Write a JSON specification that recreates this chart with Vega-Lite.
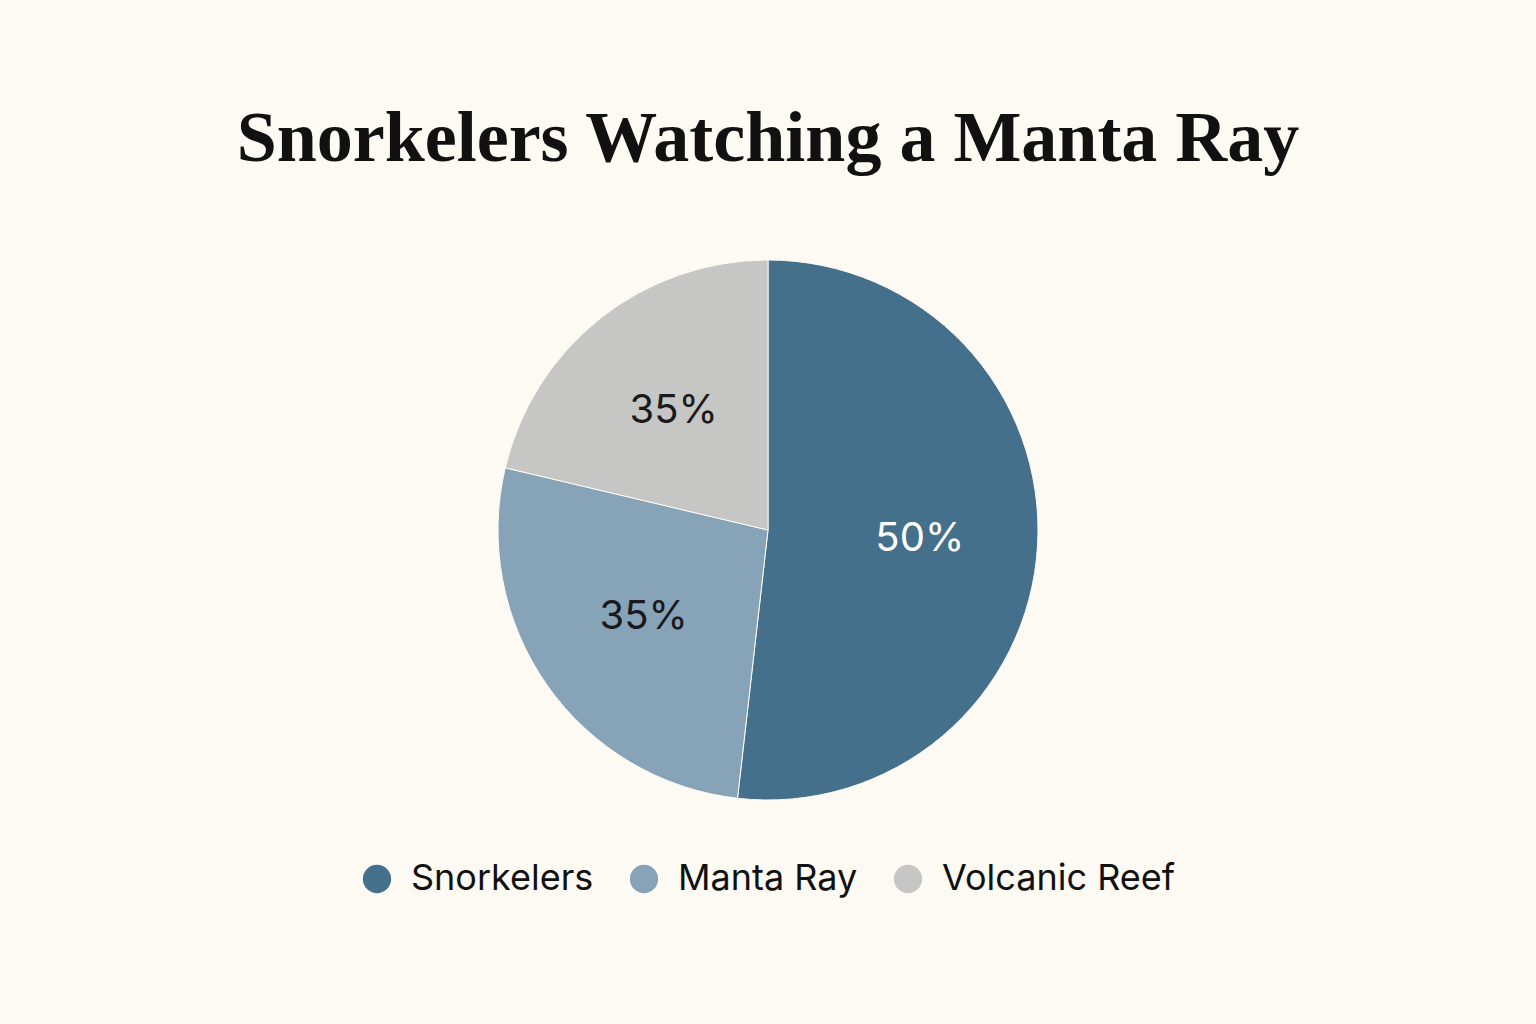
{
  "$schema": "https://vega.github.io/schema/vega-lite/v6.json",
  "description": "Snorkelers watching a manta ray, share of the picture",
  "autosize": {"type": "none"},
  "padding": {"top": 200, "bottom": 164, "left": 0, "right": 0},
  "width": 1536,
  "height": 660,
  "background": "#fdfaf3",
  "title": {
    "text": "Snorkelers Watching a Manta Ray",
    "font": "Liberation Serif",
    "fontSize": 72,
    "fontWeight": "bold",
    "color": "#111111",
    "anchor": "middle",
    "offset": 24
  },
  "data": {
    "values": [
      {"part": "Snorkelers", "share": 51.8, "label": "50%", "order": 1},
      {"part": "Manta Ray", "share": 26.9, "label": "35%", "order": 2},
      {"part": "Volcanic Reef", "share": 21.3, "label": "35%", "order": 3}
    ]
  },
  "encoding": {
    "theta": {"field": "share", "type": "quantitative", "stack": true},
    "order": {"field": "order", "type": "quantitative"},
    "color": {
      "field": "part",
      "type": "nominal",
      "scale": {
        "domain": ["Snorkelers", "Manta Ray", "Volcanic Reef"],
        "range": ["#44708c", "#86a3b8", "#c6c6c4"]
      },
      "legend": {
        "title": null,
        "orient": "none",
        "legendX": 359,
        "legendY": 661,
        "direction": "horizontal",
        "symbolType": "circle",
        "symbolSize": 800,
        "symbolStrokeWidth": 0,
        "labelFont": "Inter",
        "labelFontSize": 36,
        "labelColor": "#111111",
        "labelOffset": 16,
        "columnPadding": 32,
        "labelLimit": 400
      }
    }
  },
  "layer": [
    {
      "mark": {"type": "arc", "outerRadius": 270, "stroke": "#fdfaf3", "strokeWidth": 1}
    },
    {
      "mark": {"type": "text", "radius": 152, "font": "Inter", "fontSize": 40},
      "encoding": {
        "text": {"field": "label", "type": "nominal"},
        "color": {
          "condition": {"test": "datum.part === 'Snorkelers'", "value": "#ffffff"},
          "value": "#1a1a1a"
        }
      }
    }
  ],
  "config": {"view": {"stroke": null}}
}
